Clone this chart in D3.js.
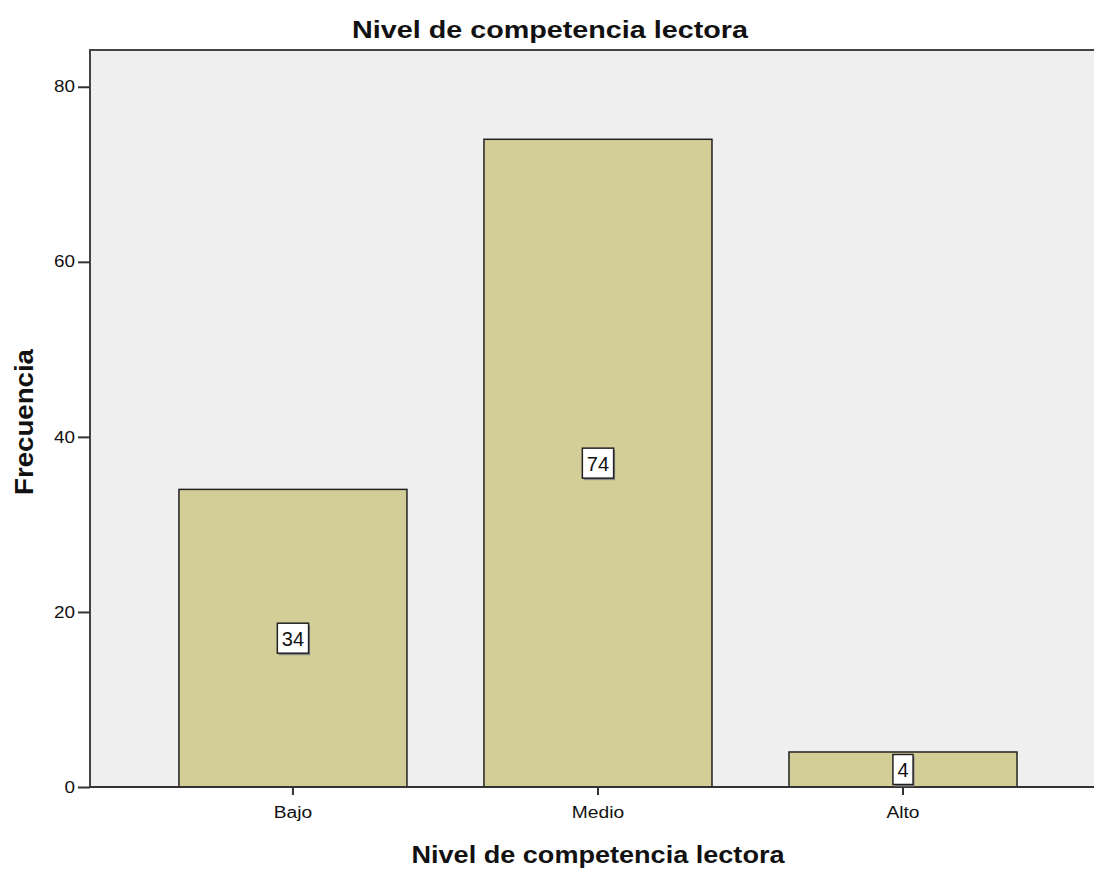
<!DOCTYPE html>
<html><head><meta charset="utf-8">
<script src="https://cdn.jsdelivr.net/npm/d3@7"></script>
<style>body{margin:0;background:#fff}text{font-family:"Liberation Sans",Arial,sans-serif}</style>
</head><body>
<svg id="c" width="1094" height="870"></svg>
<script>
const categories = ["Bajo", "Medio", "Alto"];
const values = [34, 74, 4];
const yTicks = [0, 20, 40, 60, 80];
const title = "Nivel de competencia lectora";
const xTitle = "Nivel de competencia lectora";
const yTitle = "Frecuencia";

const svg = d3.select("#c");
const L = 90, T = 50, R = 1094, B = 787;
const x = d3.scaleBand().domain(categories).range([L, R])
  .paddingInner(77 / 305).paddingOuter(0.272).align(0.536);
const y = d3.scaleLinear().domain([0, 84.2]).range([B, T]);

function stretch(sel, f) {
  sel.each(function () {
    const len = this.getComputedTextLength();
    d3.select(this).attr("textLength", len * f).attr("lengthAdjust", "spacingAndGlyphs");
  });
}

svg.append("rect").attr("x", L).attr("y", T).attr("width", R - L).attr("height", B - T).attr("fill", "#efefef");
svg.append("path").attr("d", `M${L},${B}V${T}H${R}`).attr("fill", "none").attr("stroke", "#444").attr("stroke-width", 2);

svg.selectAll("rect.bar").data(values).enter().append("rect").attr("class", "bar")
  .attr("x", (d, i) => x(categories[i])).attr("width", x.bandwidth())
  .attr("y", d => y(d)).attr("height", d => B - y(d))
  .attr("fill", "#d3ce97").attr("stroke", "#222").attr("stroke-width", 1.5);

svg.append("line").attr("x1", L).attr("x2", R).attr("y1", B).attr("y2", B).attr("stroke", "#333").attr("stroke-width", 2);

const ya = svg.append("g").attr("transform", `translate(${L},0)`)
  .call(d3.axisLeft(y).tickValues(yTicks).tickSize(12).tickPadding(3));
ya.select(".domain").remove();
ya.selectAll("line").attr("stroke", "#333").attr("stroke-width", 2);
ya.selectAll("text").attr("font-size", 16).attr("fill", "#111").attr("font-family", "Liberation Sans, Arial, sans-serif");
stretch(ya.selectAll("text"), 1.18);

const xa = svg.append("g").attr("transform", `translate(0,${B})`)
  .call(d3.axisBottom(x).tickSize(8).tickPadding(12));
xa.select(".domain").remove();
xa.selectAll("line").attr("stroke", "#333").attr("stroke-width", 2);
xa.selectAll("text").attr("font-size", 16).attr("fill", "#111").attr("font-family", "Liberation Sans, Arial, sans-serif");
stretch(xa.selectAll("text"), 1.2);

// value labels
values.forEach((v, i) => {
  const cx = x(categories[i]) + x.bandwidth() / 2;
  let cy = (y(v) + B) / 2;
  const g = svg.append("g");
  const t = g.append("text").attr("x", cx).attr("y", cy + 1).attr("text-anchor", "middle")
    .attr("dominant-baseline", "central").attr("font-size", 20).attr("fill", "#111").text(v);
  const w = t.node().getComputedTextLength() + 9, h = 30;
  let top = cy - h / 2;
  if (top + h > B) { top = B - h; cy = top + h / 2; t.attr("y", cy + 1); }
  g.insert("rect", "text").attr("x", cx - w / 2 + 1.5).attr("y", top + 2).attr("width", w).attr("height", h).attr("fill", "#888");
  g.insert("rect", "text").attr("x", cx - w / 2).attr("y", top).attr("width", w).attr("height", h)
    .attr("fill", "#fff").attr("stroke", "#222").attr("stroke-width", 1.5);
});

svg.append("text").attr("x", 550).attr("y", 38).attr("text-anchor", "middle").attr("font-size", 24)
  .attr("font-weight", "bold").attr("fill", "#111").attr("textLength", 396).attr("lengthAdjust", "spacingAndGlyphs").text(title);
svg.append("text").attr("x", 598).attr("y", 863).attr("text-anchor", "middle").attr("font-size", 23)
  .attr("font-weight", "bold").attr("fill", "#111").attr("textLength", 373).attr("lengthAdjust", "spacingAndGlyphs").text(xTitle);
svg.append("text").attr("transform", "translate(33,422) rotate(-90)").attr("text-anchor", "middle").attr("font-size", 26)
  .attr("font-weight", "bold").attr("fill", "#111").attr("textLength", 146).attr("lengthAdjust", "spacingAndGlyphs").text(yTitle);
</script>
</body></html>
